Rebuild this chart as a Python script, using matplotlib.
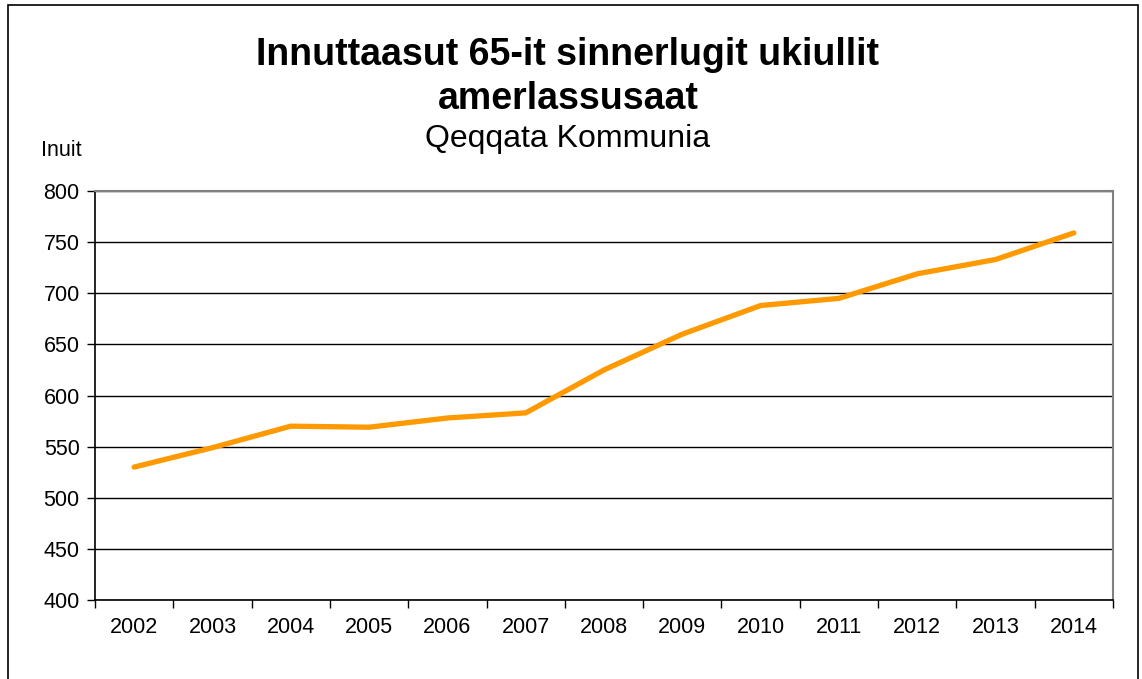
import matplotlib.pyplot as plt
from matplotlib.patches import Rectangle
from matplotlib.ticker import FixedLocator, NullFormatter

years = ['2002', '2003', '2004', '2005', '2006', '2007', '2008',
         '2009', '2010', '2011', '2012', '2013', '2014']
people = [530, 549, 570, 569, 578, 583, 625, 660, 688, 695, 719, 733, 759]
y_ticks = [400, 450, 500, 550, 600, 650, 700, 750, 800]

plt.rcParams['font.family'] = ['Liberation Sans', 'DejaVu Sans']

W, H = 1142, 679
fig = plt.figure(figsize=(W / 100, H / 100), dpi=100)

# outer chart frame
fig.patches.append(Rectangle((8 / W, -0.05), 1130 / W, 1 - 5 / H + 0.05,
                             transform=fig.transFigure, fill=False,
                             edgecolor='black', linewidth=1.2))

ax = fig.add_axes([95 / W, 1 - 600 / H, 1018 / W, 409 / H])
x = list(range(len(years)))
ax.plot(x, people, color='#FF9900', linewidth=3.8, solid_capstyle='round',
        zorder=3)

ax.set_xlim(-0.5, len(years) - 0.5)
ax.set_ylim(400, 800)
ax.set_yticks(y_ticks)
ax.yaxis.grid(True, color='black', linewidth=1.0)
ax.set_axisbelow(True)

# category boundaries carry tick marks, labels sit at the centres
ax.xaxis.set_major_locator(FixedLocator([i - 0.5 for i in range(len(years) + 1)]))
ax.xaxis.set_major_formatter(NullFormatter())
ax.xaxis.set_minor_locator(FixedLocator(x))
ax.set_xticklabels(years, minor=True)
ax.tick_params(axis='x', which='major', length=6, width=1, direction='out')
ax.tick_params(axis='x', which='minor', length=0, pad=12, labelsize=15.5)
ax.tick_params(axis='y', length=6, width=1, direction='out', pad=5, labelsize=15.5)

for side in ('left', 'bottom'):
    ax.spines[side].set_color('black')
    ax.spines[side].set_linewidth(1.2)
for side in ('top', 'right'):
    ax.spines[side].set_color('#808080')
    ax.spines[side].set_linewidth(1.5)

fig.text(568 / W, 1 - 55 / H, 'Innuttaasut 65-it sinnerlugit ukiullit',
         ha='center', va='center', fontsize=27, fontweight='bold')
fig.text(568 / W, 1 - 99 / H, 'amerlassusaat',
         ha='center', va='center', fontsize=27, fontweight='bold')
fig.text(568 / W, 1 - 139 / H, 'Qeqqata Kommunia',
         ha='center', va='center', fontsize=23)
fig.text(41 / W, 1 - 151 / H, 'Inuit', ha='left', va='center', fontsize=15.5)

fig.savefig('out.png', dpi=100)
